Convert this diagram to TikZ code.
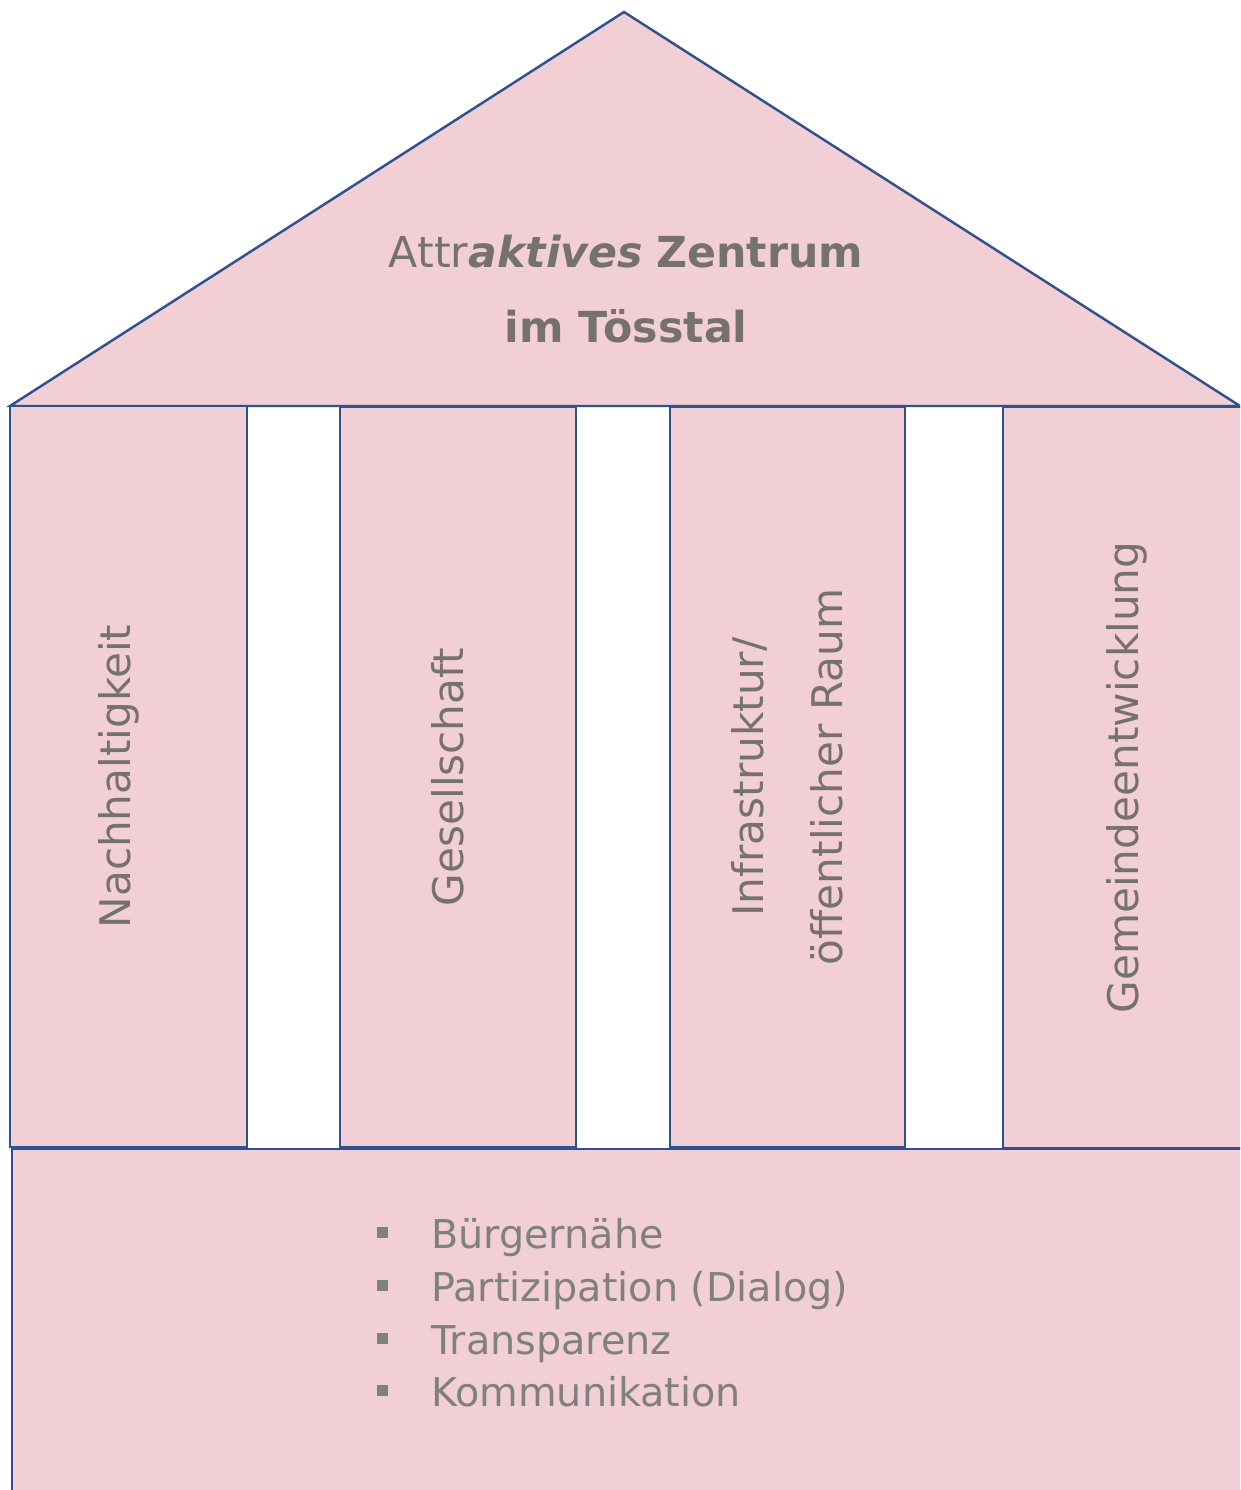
\documentclass[tikz,border=0pt]{standalone}
\usepackage{fontspec}
\setmainfont{DejaVu Sans}
\usepackage{tikz}
\usetikzlibrary{positioning}

\definecolor{hauspink}{RGB}{242,207,213}
\definecolor{hausblau}{RGB}{47,82,143}
\definecolor{titelgrau}{RGB}{118,113,113}
\definecolor{listengrau}{RGB}{128,128,128}
\newcommand{\quadpunkt}{\makebox[1.08cm][l]{\rule[0.2cm]{0.22cm}{0.22cm}}}
\newcommand{\links}[1]{\raisebox{0.2cm}[\height][\depth]{#1}}

\begin{document}
\begin{tikzpicture}[x=0.02cm, y=-0.02cm, line width=1.4pt,
  teil/.style={draw=hausblau, fill=hauspink, inner sep=0pt},
  saeule/.style={teil, rotate=90, minimum width=14.82cm, text=titelgrau,
    font=\fontsize{24}{45}\selectfont, align=center},
  punkt/.style={anchor=base west, inner sep=0pt, text=listengrau,
    font=\fontsize{22.6}{30}\selectfont}]
  \useasboundingbox (0,0) rectangle (1240,1490);
  \clip (0,0) rectangle (1240,1490);
  % Sockel
  \node[teil, anchor=north west, minimum width=24.9cm, minimum height=7.2cm] (sockel) at (11,1148) {};
  % Dach
  \draw[teil] (10,406) -- (624,12) -- (1240,406) -- cycle;
  \node[text=titelgrau, font=\fontsize{24.3}{43}\selectfont, align=center] (titel) at (626,289)
    {Attr\textbf{\textit{aktives}} \textbf{Zentrum}\\\textbf{im Tösstal}};
  % Saeulen
  \node[saeule, minimum height=4.74cm] (nachhaltigkeit) at (128.5,776.5) {\links{Nachhaltigkeit}};
  \node[saeule, minimum height=4.72cm] (gesellschaft) at (458,777) {\links{Gesellschaft}};
  \node[saeule, minimum height=4.70cm] (infrastruktur) at (787.5,777) {Infrastruktur/\\öffentlicher Raum};
  \node[saeule, minimum height=4.94cm] (gemeinde) at (1126.5,777.5) {Gemeindeentwicklung};
  % Werte
  \node[punkt] (buerger) at (376,1248) {\quadpunkt Bürgernähe};
  \node[punkt] (partizipation) at (376,1301) {\quadpunkt Partizipation (Dialog)};
  \node[punkt] (transparenz) at (376,1354) {\quadpunkt Transparenz};
  \node[punkt] (kommunikation) at (376,1406) {\quadpunkt Kommunikation};
\end{tikzpicture}
\end{document}
